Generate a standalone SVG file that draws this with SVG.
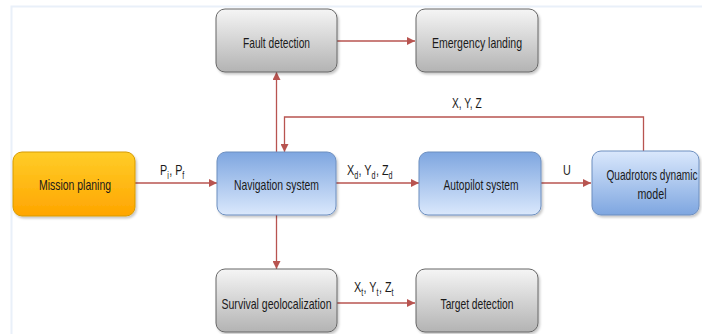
<svg xmlns="http://www.w3.org/2000/svg" width="702" height="334" viewBox="0 0 702 334">
<style>
text{font-family:"Liberation Sans",Arial,sans-serif;font-size:15px;fill:#1a1a1a}
.t{text-anchor:middle}
.sub{font-size:10px}
.gray{fill:url(#gGray);stroke:#666666;stroke-width:1}
.orange{fill:url(#gOrange);stroke:#d79b00;stroke-width:1}
.blueUp{fill:url(#gBlueUp);stroke:#6c8ebf;stroke-width:1}
.blueDown{fill:url(#gBlueDown);stroke:#6c8ebf;stroke-width:1}
.box{filter:url(#sh)}
.edge{fill:none;stroke:#b85450;stroke-width:1.3}
.frame{fill:none;stroke:#e9f0f9;stroke-width:2}
</style>
<defs>
<linearGradient id="gGray" x1="0" y1="0" x2="0" y2="1"><stop offset="0" stop-color="#f5f5f5"/><stop offset="1" stop-color="#b3b3b3"/></linearGradient>
<linearGradient id="gOrange" x1="0" y1="0" x2="0" y2="1"><stop offset="0" stop-color="#ffcd28"/><stop offset="1" stop-color="#ffa500"/></linearGradient>
<linearGradient id="gBlueUp" x1="0" y1="0" x2="0" y2="1"><stop offset="0" stop-color="#7ea6e0"/><stop offset="1" stop-color="#dae8fc"/></linearGradient>
<linearGradient id="gBlueDown" x1="0" y1="0" x2="0" y2="1"><stop offset="0" stop-color="#dae8fc"/><stop offset="1" stop-color="#7ea6e0"/></linearGradient>
<filter id="sh" x="-10%" y="-10%" width="130%" height="140%"><feDropShadow dx="1.5" dy="2" stdDeviation="1.2" flood-color="#000" flood-opacity="0.22"/></filter>
<marker id="arr" viewBox="0 0 10 10" refX="10" refY="5" markerWidth="8" markerHeight="8" markerUnits="userSpaceOnUse" orient="auto"><path d="M0,0 L10,5 L0,10 z" fill="#b85450"/></marker>
</defs>
<rect width="702" height="334" fill="#ffffff"/>
<path class="frame" d="M11.5,334 V6.5 H702"/>

<g id="connectors">
<path class="edge" d="M337,41 H415" marker-end="url(#arr)"/>
<path class="edge" d="M276.5,152 V72" marker-end="url(#arr)"/>
<path class="edge" d="M643.5,151 V117 H284.5 V152" marker-end="url(#arr)"/>
<path class="edge" d="M135,183 H217" marker-end="url(#arr)"/>
<path class="edge" d="M336,183 H419" marker-end="url(#arr)"/>
<path class="edge" d="M541,183 H591" marker-end="url(#arr)"/>
<path class="edge" d="M276.5,215 V269" marker-end="url(#arr)"/>
<path class="edge" d="M337,303 H415" marker-end="url(#arr)"/>
</g>

<g id="labels">
<text transform="translate(160,175) scale(0.72,1)">P<tspan class="sub" dy="4">i</tspan><tspan dx="0.5" dy="-4">, P</tspan><tspan class="sub" dy="4">f</tspan></text>
<text transform="translate(347,175) scale(0.72,1)">X<tspan class="sub" dy="4">d</tspan><tspan dx="0.5" dy="-4">, Y</tspan><tspan class="sub" dy="4">d</tspan><tspan dx="0.5" dy="-4">, Z</tspan><tspan class="sub" dy="4">d</tspan></text>
<text transform="translate(354,292) scale(0.72,1)">X<tspan class="sub" dy="4">t</tspan><tspan dx="0.5" dy="-4">, Y</tspan><tspan class="sub" dy="4">t</tspan><tspan dx="0.5" dy="-4">, Z</tspan><tspan class="sub" dy="4">t</tspan></text>
<text transform="translate(452,108) scale(0.68,1)">X, Y, Z</text>
<text transform="translate(563,175) scale(0.72,1)">U</text>
</g>

<g id="fault-detection">
<rect class="box gray" x="216" y="9" width="121" height="63" rx="9"/>
<text class="t" x="276.5" y="48" textLength="67" lengthAdjust="spacingAndGlyphs">Fault detection</text>
</g>
<g id="emergency-landing">
<rect class="box gray" x="416" y="9" width="122" height="63" rx="9"/>
<text class="t" x="477" y="48" textLength="90" lengthAdjust="spacingAndGlyphs">Emergency landing</text>
</g>
<g id="mission-planing">
<rect class="box orange" x="13" y="152" width="122" height="64" rx="9"/>
<text class="t" x="75" y="190" textLength="72" lengthAdjust="spacingAndGlyphs">Mission planing</text>
</g>
<g id="navigation-system">
<rect class="box blueUp" x="217" y="152" width="119" height="63" rx="9"/>
<text class="t" x="276.5" y="190" textLength="85" lengthAdjust="spacingAndGlyphs">Navigation system</text>
</g>
<g id="autopilot-system">
<rect class="box blueUp" x="419" y="152" width="122" height="63" rx="9"/>
<text class="t" x="481" y="190" textLength="75" lengthAdjust="spacingAndGlyphs">Autopilot system</text>
</g>
<g id="quadrotors-model">
<rect class="box blueDown" x="592" y="151" width="107" height="64" rx="9"/>
<text class="t" x="652" y="180" textLength="91" lengthAdjust="spacingAndGlyphs">Quadrotors dynamic</text>
<text class="t" x="652" y="199" textLength="29" lengthAdjust="spacingAndGlyphs">model</text>
</g>
<g id="survival-geolocalization">
<rect class="box gray" x="216" y="269" width="121" height="63" rx="9"/>
<text class="t" x="276.5" y="309" textLength="110" lengthAdjust="spacingAndGlyphs">Survival geolocalization</text>
</g>
<g id="target-detection">
<rect class="box gray" x="416" y="269" width="122" height="63" rx="9"/>
<text class="t" x="477" y="309" textLength="73" lengthAdjust="spacingAndGlyphs">Target detection</text>
</g>
</svg>
